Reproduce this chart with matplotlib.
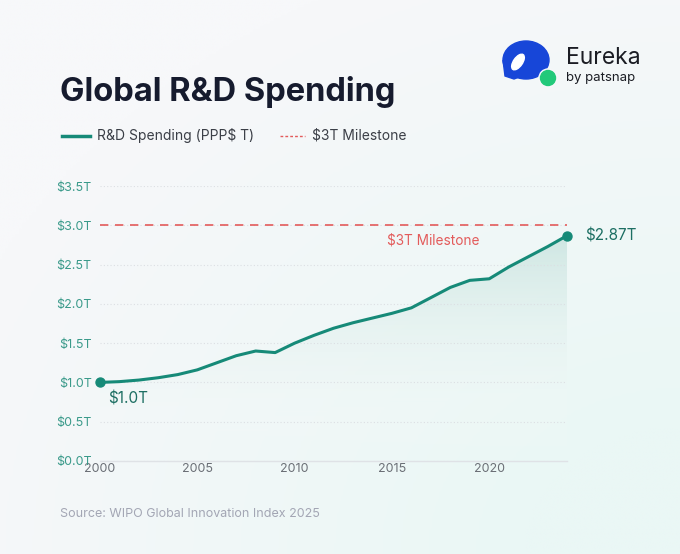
import numpy as np
import matplotlib
matplotlib.use("Agg")
import matplotlib.pyplot as plt
from matplotlib.patches import Circle, Ellipse, Polygon
from matplotlib.colors import LinearSegmentedColormap

# data
years = list(range(2000, 2025))
spending = [1.00, 1.01, 1.03, 1.06, 1.10, 1.16, 1.25, 1.34, 1.40, 1.38,
            1.50, 1.60, 1.69, 1.76, 1.82, 1.88, 1.95, 2.08, 2.21, 2.30,
            2.32, 2.47, 2.60, 2.73, 2.87]
milestone = 3.0
yticks = [0, 0.5, 1.0, 1.5, 2.0, 2.5, 3.0, 3.5]
xticks = [2000, 2005, 2010, 2015, 2020]

TEAL = "#168a78"
RED = "#e35b5b"
FONT = ["Inter", "DejaVu Sans"]
plt.rcParams["font.family"] = FONT

fig = plt.figure(figsize=(6.8, 5.54), dpi=100)

# background with soft teal glow at bottom right
bg = fig.add_axes([0, 0, 1, 1], zorder=-10)
gx, gy = np.meshgrid(np.linspace(0, 1, 200), np.linspace(0, 1, 200))
d = np.clip(1.25 - np.hypot(gx - 1.0, gy - 0.0) * 1.1, 0, 1)
bgcmap = LinearSegmentedColormap.from_list("bg", ["#f7f8fa", "#eaf7f5"])
bg.imshow(d, cmap=bgcmap, origin="lower", extent=[0, 1, 0, 1], aspect="auto")
bg.set_axis_off()

ax = fig.add_axes([0.147, 0.168, 0.687, 0.496])
ax.patch.set_alpha(0)

# gradient fill under curve
fill = ax.fill_between(years, spending, 0, color="none")
grad = LinearSegmentedColormap.from_list("g", ["#ffffff00", "#cde6e2"])
ymax = max(spending)
img = ax.imshow(np.linspace(0, 1, 256).reshape(-1, 1), cmap=grad, origin="lower",
                extent=[years[0], years[-1], 0, ymax], aspect="auto", alpha=0.95, zorder=1)
path = fill.get_paths()[0]
img.set_clip_path(path, transform=ax.transData)

ax.plot(years, spending, color=TEAL, lw=2.2, zorder=3, solid_capstyle="round",
        solid_joinstyle="round")
ax.axhline(milestone, color=RED, lw=1.2, ls=(0, (5, 4)), zorder=2)
ax.scatter([years[0], years[-1]], [spending[0], spending[-1]], s=42, color=TEAL,
           zorder=4, clip_on=False)

ax.text(years[0] + 0.4, spending[0] - 0.11, "$%.1fT" % spending[0], color="#1d6f63",
        fontsize=11, va="top", ha="left")
ax.text(years[-1] + 0.9, spending[-1], "$%.2fT" % spending[-1], color="#1d6f63",
        fontsize=11, va="center", ha="left")
ax.text(2017.1, milestone - 0.1, "$3T Milestone", color=RED, fontsize=9.8,
        va="top", ha="center")

ax.set_xlim(2000, 2024)
ax.set_ylim(0, 3.5)
ax.set_yticks(yticks)
ax.set_yticklabels(["$%.1fT" % v for v in yticks])
ax.set_xticks(xticks)
ax.tick_params(axis="y", length=0, pad=6, labelsize=9, labelcolor="#3a9a8a")
ax.tick_params(axis="x", length=0, pad=1.5, labelsize=9, labelcolor="#6b6f76")
ax.grid(axis="y", color="#dcdfe3", lw=0.8, ls=(0, (1, 2)), zorder=0)
for s in ["top", "right", "left"]:
    ax.spines[s].set_visible(False)
ax.spines["bottom"].set_color("#dfe2e6")
ax.spines["bottom"].set_linewidth(1)

# title and legend
fig.text(60 / 680, 1 - 92 / 554, "Global R&D Spending", fontsize=23.5, weight="bold",
         color="#161b2e", va="center", ha="left")
fig.lines.append(plt.Line2D([62 / 680, 90 / 680], [1 - 136 / 554] * 2,
                            transform=fig.transFigure, color=TEAL, lw=2.5))
fig.text(97 / 680, 1 - 136 / 554, "R&D Spending (PPP$ T)", fontsize=10,
         color="#3b3f47", va="center")
fig.lines.append(plt.Line2D([280 / 680, 305 / 680], [1 - 136 / 554] * 2,
                            transform=fig.transFigure, color=RED, lw=1, ls=(0, (2, 1.5))))
fig.text(312 / 680, 1 - 136 / 554, "$3T Milestone", fontsize=10,
         color="#3b3f47", va="center")

fig.text(60 / 680, 1 - 514 / 554, "Source: WIPO Global Innovation Index 2025",
         fontsize=9, color="#a3a6b4", va="center")

# logo
lg = fig.add_axes([490 / 680, 1 - 100 / 554, 70 / 680, 65 / 554])
lg.set_xlim(0, 70)
lg.set_ylim(0, 65)
lg.set_aspect("equal")
lg.set_axis_off()
lg.add_patch(Ellipse((36, 40), 46, 38, color="#1746d8"))
lg.add_patch(Polygon([[13, 40], [15, 24], [24, 21], [32, 24]], color="#1746d8"))
lg.add_patch(Ellipse((28, 38), 9, 18, angle=-35, color="white"))
lg.add_patch(Circle((58, 22), 9, color="#f7f8fa"))
lg.add_patch(Circle((58, 22), 7.5, color="#22c97a"))
fig.text(566 / 680, 1 - 58 / 554, "Eureka", fontsize=16.5, color="#1b1d24", va="center")
fig.text(566 / 680, 1 - 78 / 554, "by patsnap", fontsize=9.5, color="#1b1d24",
         va="center")

fig.savefig("out.png", dpi=100)
